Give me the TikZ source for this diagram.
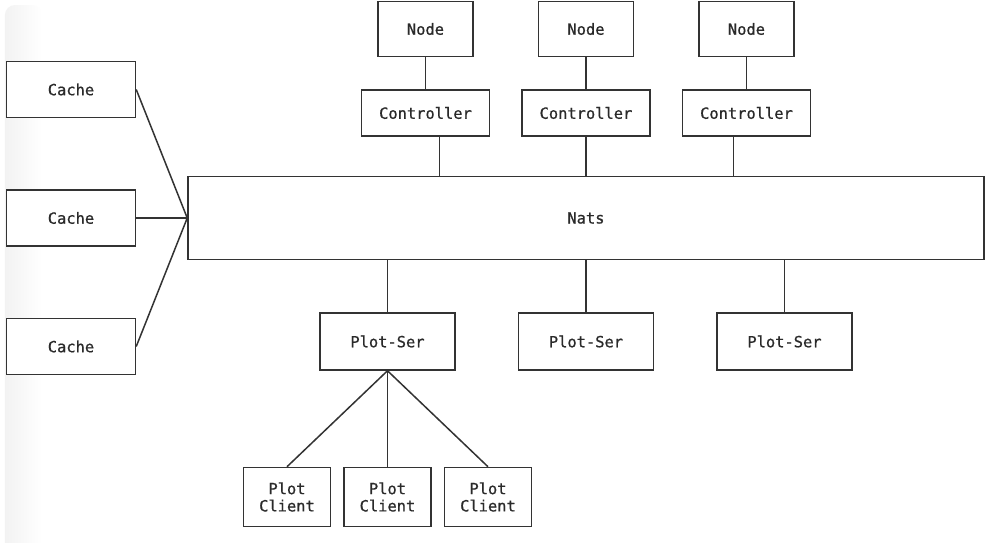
\documentclass[tikz,border=0pt]{standalone}
\usepackage{fontspec}
\newfontface\diagfont{DejaVu Sans Mono}[FakeBold=0.7]
\usepackage{tikz}
\usetikzlibrary{positioning, backgrounds, calc}
\definecolor{linecol}{HTML}{333333}
\definecolor{textcol}{HTML}{2A2A2A}

\begin{document}
\begin{tikzpicture}[
    sbox/.style = {
        draw=linecol, fill=white, line width=0.75pt,
        align=center, inner sep=1pt,
        font=\diagfont\fontsize{7.7}{9}\selectfont, text=textcol
    },
    nodebox/.style   = {sbox, minimum width=47.5pt, minimum height=27.5pt},
    ctrlbox/.style   = {sbox, minimum width=64pt,   minimum height=23pt},
    busbox/.style    = {sbox, minimum width=398pt,  minimum height=41.5pt},
    plotbox/.style   = {sbox, minimum width=67.5pt, minimum height=28.5pt},
    clientbox/.style = {sbox, minimum width=43.5pt, minimum height=29.5pt,
                        font=\diagfont\fontsize{7.7}{8.6}\selectfont},
    cachebox/.style  = {sbox, minimum width=64.5pt, minimum height=28pt},
    wire/.style      = {draw=linecol, line width=0.75pt}
  ]

  %% frame
  \useasboundingbox (-293pt,-162pt) rectangle (208.5pt,109pt);
  \begin{scope}[on background layer]
    \fill[white] (-293pt,-162pt) rectangle (208.5pt,109pt);
    \shade[left color=black!5, right color=white, rounded corners=5pt]
      (-290.5pt,-170pt) rectangle (-272pt,106.5pt);
  \end{scope}

  %% bus
  \node[busbox] (nats) {Nats};

  %% controllers + nodes
  \node[ctrlbox, above=19.5pt of nats] (c2) {Controller};
  \node[ctrlbox, left=15.5pt of c2]    (c1) {Controller};
  \node[ctrlbox, right=15.5pt of c2]   (c3) {Controller};
  \node[nodebox, above=16pt of c1]     (n1) {Node};
  \node[nodebox, above=16pt of c2]     (n2) {Node};
  \node[nodebox, above=16pt of c3]     (n3) {Node};

  %% plot servers
  \node[plotbox, below=26pt of nats]   (p2) {Plot-Ser};
  \node[plotbox, left=31pt of p2]      (p1) {Plot-Ser};
  \node[plotbox, right=31pt of p2]     (p3) {Plot-Ser};

  %% plot clients
  \node[clientbox, below=48pt of p1]   (k2) {Plot\\Client};
  \node[clientbox, left=6pt of k2]     (k1) {Plot\\Client};
  \node[clientbox, right=6pt of k2]    (k3) {Plot\\Client};

  %% caches
  \node[cachebox, left=25.5pt of nats] (h2) {Cache};
  \node[cachebox, above=35.5pt of h2]  (h1) {Cache};
  \node[cachebox, below=35.5pt of h2]  (h3) {Cache};

  %% wires
  \foreach \i in {1,2,3} {
    \draw[wire] (n\i.south) -- (c\i.north);
    \draw[wire] (h\i.east) -- (nats.west);
    \draw[wire] (p\i.north |- nats.south) -- (p\i.north);
    \draw[wire] (p1.south) -- (k\i.north);
  }
  \draw[wire] ([xshift=7pt]c1.south)    -- ([xshift=7pt]c1.south |- nats.north);
  \draw[wire] (c2.south)                -- (c2.south |- nats.north);
  \draw[wire] ([xshift=-6.5pt]c3.south) -- ([xshift=-6.5pt]c3.south |- nats.north);

\end{tikzpicture}
\end{document}
